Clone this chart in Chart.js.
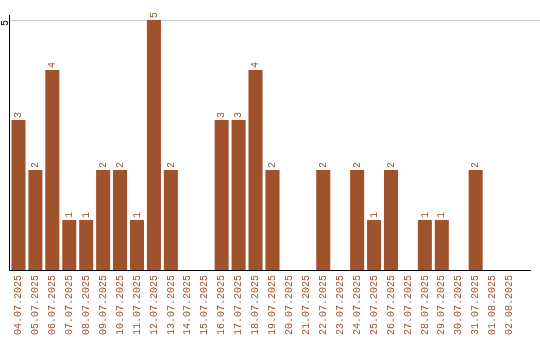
<!DOCTYPE html>
<html lang="en">
  <head>
    <meta charset="UTF-8" />
    <title>Daily counts</title>
    <script src="https://cdn.jsdelivr.net/npm/chart.js"></script>
    <style>
      body { margin: 0; background: #fff; }
      #wrap { width: 540px; height: 340px; }
    </style>
  </head>
  <body>
    <div id="wrap"><canvas id="barChart" width="540" height="340"></canvas></div>
    <script>
      const days = [
        "04.07.2025", "05.07.2025", "06.07.2025", "07.07.2025", "08.07.2025",
        "09.07.2025", "10.07.2025", "11.07.2025", "12.07.2025", "13.07.2025",
        "14.07.2025", "15.07.2025", "16.07.2025", "17.07.2025", "18.07.2025",
        "19.07.2025", "20.07.2025", "21.07.2025", "22.07.2025", "23.07.2025",
        "24.07.2025", "25.07.2025", "26.07.2025", "27.07.2025", "28.07.2025",
        "29.07.2025", "30.07.2025", "31.07.2025", "01.08.2025", "02.08.2025",
      ];
      const counts = [3, 2, 4, 1, 1, 2, 2, 1, 5, 2, 0, 0, 3, 3, 4, 2, 0, 0, 2, 0, 2, 1, 2, 0, 1, 1, 0, 2, 0, 0];
      const yMax = 5;

      const brown = "#a0522d";
      const mono = "'Liberation Mono', monospace";

      // gridline, axes, value labels
      const decor = {
        id: "decor",
        beforeDatasetsDraw(chart) {
          const { ctx, chartArea, scales } = chart;
          const yTop = Math.round(scales.y.getPixelForValue(yMax)) + 0.5;
          ctx.save();
          ctx.strokeStyle = "#cccccc";
          ctx.lineWidth = 1;
          ctx.beginPath();
          ctx.moveTo(chartArea.left, yTop);
          ctx.lineTo(540, yTop);
          ctx.stroke();
          ctx.restore();
        },
        afterDatasetsDraw(chart) {
          const { ctx, chartArea, scales } = chart;
          const y0 = Math.round(scales.y.getPixelForValue(0)) + 0.5;
          const yTop = scales.y.getPixelForValue(yMax);
          ctx.save();
          ctx.strokeStyle = "#000";
          ctx.lineWidth = 1;
          ctx.beginPath();
          ctx.moveTo(chartArea.left - 0.5, chartArea.top - 5);
          ctx.lineTo(chartArea.left - 0.5, y0);
          ctx.lineTo(531, y0);
          ctx.stroke();

          ctx.font = "10px " + mono;
          // y tick "5"
          ctx.fillStyle = "#000";
          ctx.save();
          ctx.translate(5, yTop);
          ctx.rotate(-Math.PI / 2);
          ctx.textAlign = "right";
          ctx.textBaseline = "middle";
          ctx.fillText(String(yMax), 0, 0);
          ctx.restore();

          // value labels
          ctx.fillStyle = brown;
          chart.getDatasetMeta(0).data.forEach((bar, i) => {
            if (!counts[i]) return;
            ctx.save();
            ctx.translate(bar.x, bar.y - 2);
            ctx.rotate(-Math.PI / 2);
            ctx.textAlign = "left";
            ctx.textBaseline = "middle";
            ctx.fillText(String(counts[i]), 0, 0);
            ctx.restore();
          });
          ctx.restore();
        },
      };

      new Chart(document.getElementById("barChart"), {
        type: "bar",
        data: {
          labels: days,
          datasets: [
            {
              data: counts,
              backgroundColor: brown,
              barPercentage: 0.83,
              categoryPercentage: 1,
            },
          ],
        },
        options: {
          responsive: false,
          animation: false,
          layout: { padding: { left: 10, right: 22, top: 20, bottom: 0 } },
          plugins: { legend: { display: false }, tooltip: { enabled: false } },
          scales: {
            x: {
              grid: { display: false, drawTicks: false },
              border: { display: false },
              ticks: {
                color: brown,
                font: { family: mono, size: 10 },
                minRotation: 90,
                maxRotation: 90,
                autoSkip: false,
                padding: 5,
              },
            },
            y: {
              min: 0,
              max: yMax,
              display: false,
            },
          },
        },
        plugins: [decor],
      });
    </script>
  </body>
</html>
